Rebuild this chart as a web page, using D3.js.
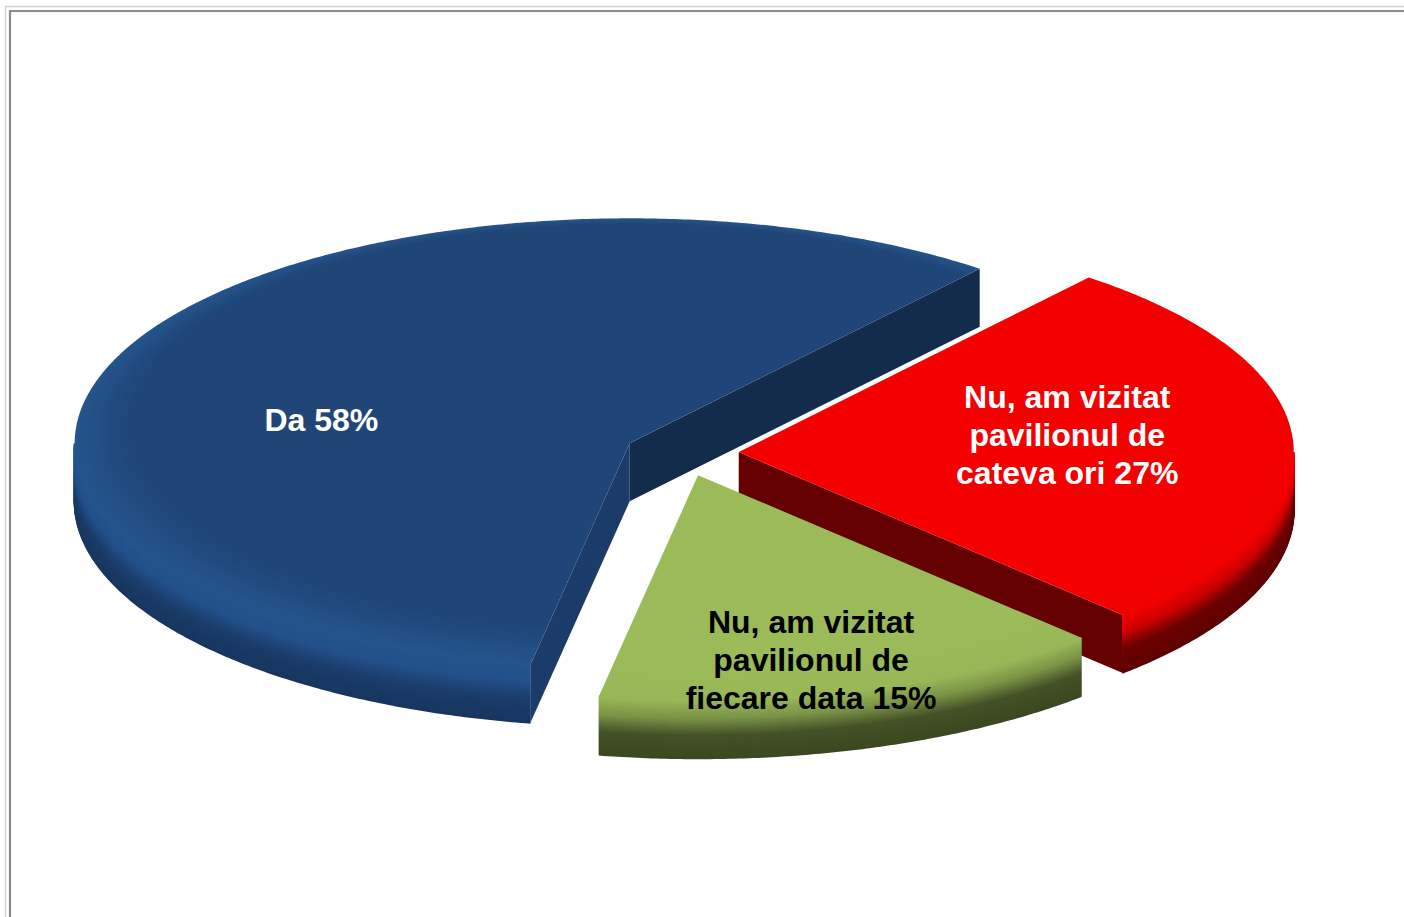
<!DOCTYPE html>
<html>
<head>
<meta charset="utf-8">
<script src="https://cdn.jsdelivr.net/npm/d3@7"></script>
<style>
  body { margin: 0; background: #fff; }
  svg { display: block; }
</style>
</head>
<body>
<div id="chart"></div>
<script>
// slices, clockwise from the "Da" slice
var categories = ["Da", "Nu, am vizitat pavilionul de cateva ori", "Nu, am vizitat pavilionul de fiecare data"];
var values = [58, 27, 15];
var labelLines = [["Da"], ["Nu, am vizitat", "pavilionul de", "cateva ori"], ["Nu, am vizitat", "pavilionul de", "fiecare data"]];

var width = 1404,
  height = 917,
  cx = 681.6,
  cy = 453,
  rx = 555,
  ry = 225,
  depth = 58,
  explode = 0.103,
  startDeg = 190.3;

var rad = Math.PI / 180;

// look of each slice: top, wall gradient (top->bottom), cut faces
var topColor = d3.scaleOrdinal().domain(categories).range(["#1f4677", "#f50000", "#9bbb59"]);
var wallStops = d3.scaleOrdinal().domain(categories).range([
  ["#24548c", "#23508a", "#1b3d69", "#183660"],
  ["#f20000", "#cc0000", "#6c0000", "#5e0000"],
  ["#98b857", "#7a9446", "#445227", "#3c4821"]
]);
var cutStart = d3.scaleOrdinal().domain(categories).range(["#1b3c69", "#650000", "#4b5a2a"]);
var cutEnd = d3.scaleOrdinal().domain(categories).range(["#142c4c", "#650000", "#4b5a2a"]);
var labelColor = d3.scaleOrdinal().domain(categories).range(["#ffffff", "#ffffff", "#000000"]);
// label placement: angle (deg) and radius fraction from the slice apex
var labelPlace = d3.scaleOrdinal().domain(categories).range([[281, 0.566], [82.5, 0.597], [166, 0.842]]);

var svg = d3.select("#chart").append("svg").attr("width", width).attr("height", height);

// frame
svg.append("path").attr("d", "M5.5,917V6.5H1404").attr("fill", "none").attr("stroke", "#d2d2d2").attr("stroke-width", 1.5);
svg.append("path").attr("d", "M10,917V11H1404").attr("fill", "none").attr("stroke", "#8a8a8a").attr("stroke-width", 2.2);

var pie = d3.pie().sort(null).value((d) => d.value)
  .startAngle(startDeg * rad).endAngle(startDeg * rad + 2 * Math.PI);

var arcs = pie(categories.map((c, i) => ({ name: c, value: values[i], lines: labelLines[i] })));

function pt(o, a, r, dy) {
  return [o[0] + Math.sin(a) * rx * r, o[1] - Math.cos(a) * ry * r + (dy || 0)];
}
function rim(o, a0, a1, dy) {
  var n = Math.max(2, Math.ceil(Math.abs(a1 - a0) / (0.5 * rad)));
  return d3.range(n + 1).map((i) => pt(o, a0 + (a1 - a0) * i / n, 1, dy));
}
// part of [a0,a1] that faces the viewer (between 3 and 9 o'clock, lower half)
function frontRange(a0, a1) {
  for (var k = -1; k <= 1; k++) {
    var f0 = Math.PI / 2 + k * 2 * Math.PI, f1 = 1.5 * Math.PI + k * 2 * Math.PI;
    var s = Math.max(a0, f0), e = Math.min(a1, f1);
    if (e > s) return [s, e];
  }
  return null;
}

var line = d3.line();
var defs = svg.append("defs");

arcs.forEach(function (d, i) {
  var mid = (d.startAngle + d.endAngle) / 2;
  var o = pt([cx, cy], mid, explode);
  var g = svg.append("g").attr("class", "slice");
  var name = d.data.name;

  // cut faces
  if (Math.sin(d.startAngle) < 0) {
    var p = pt(o, d.startAngle, 1);
    g.append("path")
      .attr("d", line([o, p, [p[0], p[1] + depth], [o[0], o[1] + depth]]) + "Z")
      .attr("fill", cutStart(name));
  }
  if (Math.sin(d.endAngle) > 0) {
    var q = pt(o, d.endAngle, 1);
    g.append("path")
      .attr("d", line([o, q, [q[0], q[1] + depth], [o[0], o[1] + depth]]) + "Z")
      .attr("fill", cutEnd(name));
  }

  // outer wall, drawn as stacked strokes for a rounded look
  var fr = frontRange(d.startAngle, d.endAngle);
  if (fr) {
    var stops = wallStops(name);
    var shade = d3.scaleLinear().domain([0, 0.3, 0.6, 1]).range(stops).interpolate(d3.interpolateRgb);
    var ks = d3.range(depth, -1, -1);
    g.selectAll("path.wall").data(ks).join("path")
      .attr("class", "wall")
      .attr("d", (k) => line(rim(o, fr[0], fr[1], k)))
      .attr("fill", "none")
      .attr("stroke", (k) => shade(k / depth))
      .attr("stroke-width", 2);
  }

  // top face with soft bevel near the rim
  var gid = "top" + i;
  var grad = defs.append("radialGradient").attr("id", gid)
    .attr("gradientUnits", "userSpaceOnUse")
    .attr("cx", 0).attr("cy", 0).attr("r", rx)
    .attr("fx", 0).attr("fy", -0.75 * rx)
    .attr("gradientTransform", "translate(" + o[0] + "," + o[1] + ") scale(1," + ry / rx + ")");
  grad.append("stop").attr("offset", 0).attr("stop-color", topColor(name));
  grad.append("stop").attr("offset", 0.9).attr("stop-color", topColor(name));
  grad.append("stop").attr("offset", 1).attr("stop-color", wallStops(name)[0]);

  g.append("path")
    .attr("d", line([o].concat(rim(o, d.startAngle, d.endAngle))) + "Z")
    .attr("fill", "url(#" + gid + ")");

  // label
  var lp = labelPlace(name);
  var c = pt(o, lp[0] * rad, lp[1]);
  var lines = d.data.lines.slice();
  lines[lines.length - 1] += " " + d.data.value + "%";
  var lh = 38;
  g.append("text")
    .attr("text-anchor", "middle")
    .attr("font-family", "'Liberation Sans', Arial, Helvetica, sans-serif")
    .attr("font-weight", "bold")
    .attr("font-size", 32)
    .attr("fill", labelColor(name))
    .selectAll("tspan").data(lines).join("tspan")
    .attr("x", c[0])
    .attr("y", (t, j) => c[1] + 11.5 + (j - (lines.length - 1) / 2) * lh)
    .text((t) => t);
});
</script>
</body>
</html>
